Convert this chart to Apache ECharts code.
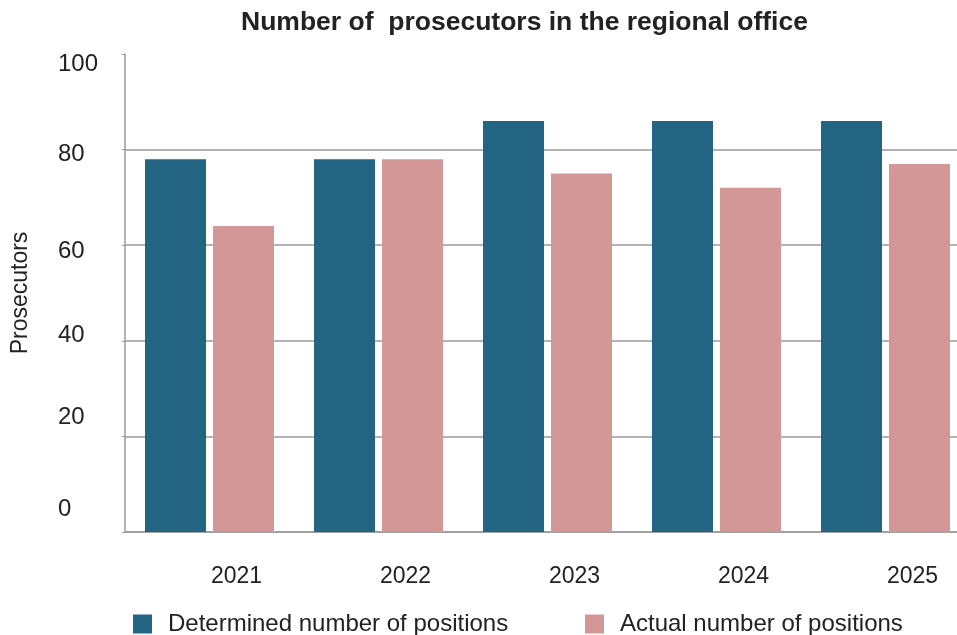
<!DOCTYPE html>
<html>
<head>
<meta charset="utf-8">
<title>Number of prosecutors in the regional office</title>
<script src="https://cdn.jsdelivr.net/npm/echarts@6/dist/echarts.min.js"></script>
<style>
  html, body { margin: 0; padding: 0; background: #ffffff; }
  #chart { width: 957px; height: 635px; }
</style>
</head>
<body>
<div id="chart"></div>
<script>
// Years on the category axis
const years = ['2021', '2022', '2023', '2024', '2025'];
// Planned (determined) prosecutor positions per year
const determined = [78, 78, 86, 86, 86];
// Positions actually filled per year
const actual = [64, 78, 75, 72, 77];
// Value axis ticks
const yTicks = [0, 20, 40, 60, 80, 100];

const FONT = '"Liberation Sans", Arial, Helvetica, sans-serif';
const TEXT = '#222222';
const GRID_LINE = '#9a9a9a';

// vertical nudges for the value-axis labels (px, positive = down)
const yLabelShift = { 0: -23, 20: -19, 40: -5, 60: 6, 80: 5, 100: 10 };
const yRich = {};
yTicks.forEach(function (v) {
  const d = yLabelShift[v] || 0;
  yRich['v' + v] = {
    fontFamily: FONT, fontSize: 24, color: TEXT,
    padding: d >= 0 ? [2 * d, 0, 0, 0] : [0, 0, -2 * d, 0]
  };
});

const chart = echarts.init(document.getElementById('chart'), null, { renderer: 'canvas' });

chart.setOption({
  animation: false,
  backgroundColor: '#ffffff',
  title: {
    text: 'Number of  prosecutors in the regional office',
    left: 241,
    top: 9,
    padding: 0,
    textStyle: { fontFamily: FONT, fontSize: 26.5, fontWeight: 'bold', color: TEXT }
  },
  legend: [
    {
      data: ['Determined number of positions'],
      left: 133, top: 612, padding: 0,
      itemWidth: 19, itemHeight: 19,
      icon: 'rect',
      textStyle: { fontFamily: FONT, fontSize: 24, color: TEXT, padding: [0, 0, 0, 11] }
    },
    {
      data: ['Actual number of positions'],
      left: 585, top: 612, padding: 0,
      itemWidth: 19, itemHeight: 19,
      icon: 'rect',
      textStyle: { fontFamily: FONT, fontSize: 24, color: TEXT, padding: [0, 0, 0, 11] }
    }
  ],
  grid: { left: 125, top: 54, width: 845, bottom: 103, containLabel: false, outerBoundsMode: 'none' },
  xAxis: {
    type: 'category',
    data: years,
    axisLine: { show: true, lineStyle: { color: GRID_LINE, width: 1.5 } },
    axisTick: { show: false },
    axisLabel: {
      fontFamily: FONT, fontSize: 23, color: TEXT,
      margin: 33,
      padding: [0, 0, 0, 54]
    }
  },
  yAxis: {
    type: 'value',
    min: 0, max: 100, interval: 20,
    name: 'Prosecutors',
    nameLocation: 'middle',
    nameRotate: 90,
    nameGap: 93,
    nameTextStyle: { fontFamily: FONT, fontSize: 23, color: TEXT },
    axisLine: { show: true, lineStyle: { color: GRID_LINE, width: 1.5 } },
    axisTick: { show: true, length: 3, lineStyle: { color: GRID_LINE } },
    splitLine: { show: true, showMaxLine: false, lineStyle: { color: GRID_LINE, width: 1.5 } },
    axisLabel: {
      align: 'left',
      margin: 67,
      formatter: function (v) { return '{v' + v + '|' + v + '}'; },
      rich: yRich
    }
  },
  series: [
    {
      name: 'Determined number of positions',
      type: 'bar',
      data: determined,
      barWidth: 61,
      barGap: '11.5%',
      itemStyle: { color: '#246483' }
    },
    {
      name: 'Actual number of positions',
      type: 'bar',
      data: actual,
      barWidth: 61,
      barGap: '11.5%',
      itemStyle: { color: '#d49797' }
    }
  ]
});
</script>
</body>
</html>
